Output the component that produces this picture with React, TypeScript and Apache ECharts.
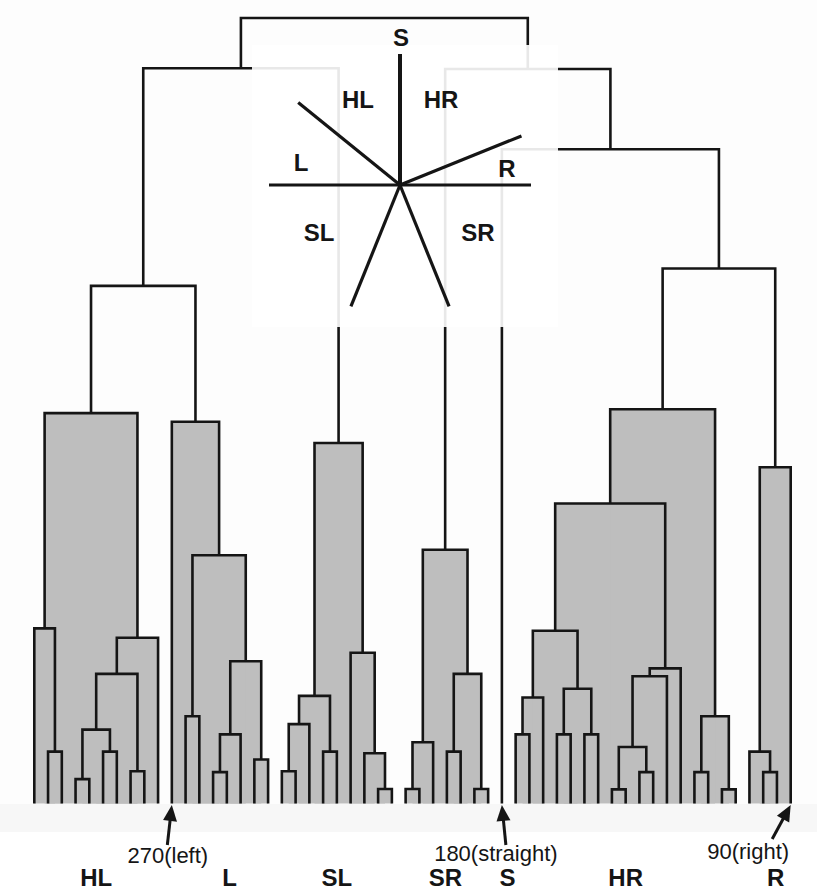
import React, { useEffect, useRef } from "react";
import * as echarts from "echarts";

// ---- data ----
// Leaves are numbered 0..55 from left to right.
// Every merge: [firstLeaf, lastLeafOfLeftChild, lastLeaf, height]
const leafCount = 56;

const mergesHL = [
  [1, 1, 2, 6.6],
  [0, 0, 2, 22.3],
  [3, 3, 4, 3.1],
  [5, 5, 6, 6.6],
  [3, 4, 6, 9.4],
  [7, 7, 8, 4.1],
  [3, 6, 8, 16.5],
  [3, 8, 9, 21.1],
  [0, 2, 9, 49.7],
];
const mergesL = [
  [11, 11, 12, 11.1],
  [13, 13, 14, 4.0],
  [13, 14, 15, 8.8],
  [16, 16, 17, 5.6],
  [13, 15, 17, 18.1],
  [11, 12, 17, 31.6],
  [10, 10, 17, 48.6],
];
const mergesSL = [
  [18, 18, 19, 4.1],
  [18, 19, 20, 10.1],
  [21, 21, 22, 6.6],
  [18, 20, 22, 13.7],
  [25, 25, 26, 1.85],
  [24, 24, 26, 6.4],
  [23, 23, 26, 19.2],
  [18, 22, 26, 45.9],
];
const mergesSR = [
  [27, 27, 28, 1.85],
  [27, 28, 29, 7.8],
  [30, 30, 31, 6.6],
  [32, 32, 33, 1.85],
  [30, 31, 33, 16.5],
  [27, 29, 33, 32.3],
];
const mergesHR = [
  [35, 35, 36, 8.8],
  [35, 36, 37, 13.5],
  [38, 38, 39, 8.8],
  [40, 40, 41, 8.8],
  [38, 39, 41, 14.6],
  [35, 37, 41, 22.0],
  [42, 42, 43, 1.8],
  [44, 44, 45, 4.0],
  [42, 43, 45, 7.2],
  [42, 45, 46, 16.2],
  [42, 46, 47, 17.2],
  [48, 48, 49, 4.0],
  [50, 50, 51, 1.8],
  [48, 49, 51, 11.1],
  [35, 41, 47, 38.2],
  [35, 47, 51, 50.2],
];
const mergesR = [
  [53, 53, 54, 4.0],
  [52, 52, 54, 6.6],
  [52, 54, 55, 42.8],
];
const mergesTop = [
  [0, 9, 17, 65.9],
  [0, 17, 26, 93.6],
  [35, 51, 55, 68.1],
  [34, 34, 55, 83.3],
  [27, 33, 55, 93.5],
  [0, 26, 55, 100],
];
const fillCutHeight = 60;

const clusterNames = ["HL", "L", "SL", "SR", "S", "HR", "R"];
const clusterLabelAt = [4.5, 14.2, 22, 29.9, 34.4, 43, 53.9];

const arrowLeaves = [10, 34, 55];
const arrowTexts = ["270(left)", "180(straight)", "90(right)"];

const compassNames = ["S", "HL", "HR", "L", "R", "SL", "SR"];
const spokeAngles = [90, 141, 180, 0, 22, 248, 292];

// ---- layout / style (not data) ----
const W = 817;
const H = 890;
const INK = "#151515";
const GRAY = "#bebebe";
const FONT = '"Liberation Sans", Arial, Helvetica, sans-serif';
const arrowLayout = [
  { dx: -4.5, dy: 40, lx: -4, ly: 855 },
  { dx: 4, dy: 40, lx: -6, ly: 853 },
  { dx: -18.5, dy: 34, lx: -42.5, ly: 851 },
];
const compassCenter = [400, 185];
const spokeLength = 131;
const compassLabelPos = [
  [401, 37],
  [358, 99],
  [441, 99],
  [301, 162],
  [507, 168],
  [319, 232],
  [478, 232],
];

// ---- tree geometry from the merges ----
const allMerges = [
  ...mergesHL,
  ...mergesL,
  ...mergesSL,
  ...mergesSR,
  ...mergesHR,
  ...mergesR,
  ...mergesTop,
];
const mergeMap = new Map<string, number[]>();
allMerges.forEach((m) => mergeMap.set(m[0] + "-" + m[2], m));
function nodeX(lo: number, hi: number): number {
  if (lo === hi) return lo;
  const m = mergeMap.get(lo + "-" + hi)!;
  return (nodeX(lo, m[1]) + nodeX(m[1] + 1, hi)) / 2;
}
function nodeH(lo: number, hi: number): number {
  if (lo === hi) return 0;
  return mergeMap.get(lo + "-" + hi)![3];
}
const linkData = allMerges.map((m) => [
  nodeX(m[0], m[1]),
  nodeH(m[0], m[1]),
  nodeX(m[1] + 1, m[2]),
  nodeH(m[1] + 1, m[2]),
  m[3],
]);
const fillData = allMerges
  .filter((m) => m[3] < fillCutHeight)
  .map((m) => [nodeX(m[0], m[1]), nodeX(m[1] + 1, m[2]), m[3]]);

export default function App() {
  const ref = useRef<HTMLDivElement>(null);
  useEffect(() => {
    if (!ref.current) return;
    const chart = echarts.init(ref.current, null, { renderer: "svg", width: W, height: H });

    const compassGraphics: any[] = [];
    compassGraphics.push({
      type: "rect",
      z: 100,
      shape: { x: 252, y: 45, width: 306, height: 282 },
      style: { fill: "#ffffff", opacity: 0.9 },
    });
    spokeAngles.forEach((a, i) => {
      const r = (a * Math.PI) / 180;
      compassGraphics.push({
        type: "line",
        z: 101,
        shape: {
          x1: compassCenter[0],
          y1: compassCenter[1],
          x2: compassCenter[0] + Math.cos(r) * spokeLength,
          y2: compassCenter[1] - Math.sin(r) * spokeLength,
        },
        style: { stroke: INK, lineWidth: i === 0 ? 4 : 3.2 },
      });
    });
    compassNames.forEach((n, i) => {
      compassGraphics.push({
        type: "text",
        z: 102,
        x: compassLabelPos[i][0],
        y: compassLabelPos[i][1],
        style: {
          text: n,
          fill: INK,
          fontSize: 24,
          fontWeight: "bold",
          fontFamily: FONT,
          align: "center",
          verticalAlign: "middle",
        },
      });
    });

    chart.setOption({
      animation: false,
      backgroundColor: "#fdfdfd",
      grid: { left: 34.3, right: 26.3, top: 18, bottom: 86.5 },
      xAxis: { type: "value", min: 0, max: leafCount - 1, show: false },
      yAxis: { type: "value", min: 0, max: 100, show: false },
      graphic: [
        {
          type: "rect",
          z: -10,
          shape: { x: 0, y: 804, width: W, height: 28 },
          style: { fill: "#f7f7f7" },
        },
        {
          type: "rect",
          z: -10,
          shape: { x: 0, y: 832, width: W, height: H - 832 },
          style: { fill: "#ffffff" },
        },
        ...compassGraphics,
      ],
      series: [
        {
          type: "custom",
          z: 2,
          clip: false,
          data: fillData,
          renderItem: (params: any, api: any) => {
            const p1 = api.coord([api.value(0), api.value(2)]);
            const p2 = api.coord([api.value(1), 0]);
            return {
              type: "rect",
              shape: { x: p1[0], y: p1[1], width: p2[0] - p1[0], height: p2[1] - p1[1] },
              style: { fill: GRAY },
            };
          },
        },
        {
          type: "custom",
          z: 3,
          clip: false,
          data: linkData,
          renderItem: (params: any, api: any) => {
            const a = api.coord([api.value(0), api.value(1)]);
            const b = api.coord([api.value(0), api.value(4)]);
            const c = api.coord([api.value(2), api.value(4)]);
            const d = api.coord([api.value(2), api.value(3)]);
            return {
              type: "polyline",
              shape: { points: [a, b, c, d] },
              style: { stroke: INK, lineWidth: 2.6, fill: "none", lineJoin: "miter", lineCap: "butt" },
            };
          },
        },
        {
          type: "custom",
          z: 4,
          clip: false,
          data: arrowLeaves.map((l, i) => [l, i]),
          renderItem: (params: any, api: any) => {
            const i = api.value(1);
            const cfg = arrowLayout[i];
            const tip = api.coord([api.value(0), 0]);
            const tx = tip[0];
            const ty = tip[1] + 1.5;
            const bx = tx + cfg.dx;
            const by = ty + cfg.dy;
            const len = Math.hypot(tx - bx, ty - by);
            const ux = (tx - bx) / len;
            const uy = (ty - by) / len;
            const headLen = 16;
            const headW = 7;
            const hx = tx - ux * headLen;
            const hy = ty - uy * headLen;
            const px = -uy;
            const py = ux;
            return {
              type: "group",
              children: [
                {
                  type: "line",
                  shape: { x1: bx, y1: by, x2: hx + ux * 2, y2: hy + uy * 2 },
                  style: { stroke: INK, lineWidth: 3 },
                },
                {
                  type: "polygon",
                  shape: {
                    points: [
                      [tx, ty],
                      [hx + px * headW, hy + py * headW],
                      [hx - px * headW, hy - py * headW],
                    ],
                  },
                  style: { fill: INK },
                },
                {
                  type: "text",
                  x: tx + cfg.lx,
                  y: cfg.ly,
                  style: {
                    text: arrowTexts[i],
                    fill: INK,
                    fontSize: 22,
                    fontFamily: FONT,
                    align: "center",
                    verticalAlign: "middle",
                  },
                },
              ],
            };
          },
        },
        {
          type: "custom",
          z: 4,
          clip: false,
          data: clusterLabelAt.map((x, i) => [x, i]),
          renderItem: (params: any, api: any) => {
            const p = api.coord([api.value(0), 0]);
            return {
              type: "text",
              x: p[0],
              y: 877,
              style: {
                text: clusterNames[api.value(1)],
                fill: INK,
                fontSize: 24,
                fontWeight: "bold",
                fontFamily: FONT,
                align: "center",
                verticalAlign: "middle",
              },
            };
          },
        },
      ],
    });
    return () => chart.dispose();
  }, []);
  return (
    <div
      ref={ref}
      style={{ position: "fixed", left: 0, top: 0, width: W, height: H }}
    />
  );
}
